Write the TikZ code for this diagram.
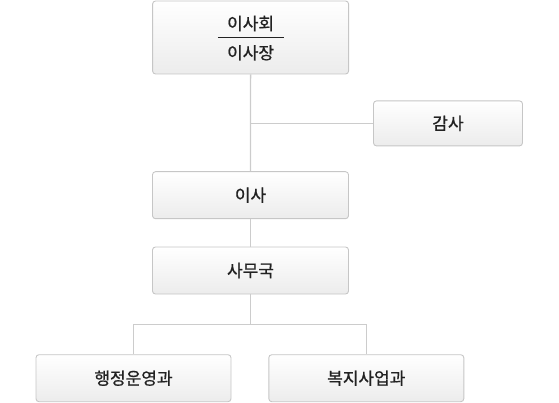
\documentclass[tikz,border=0pt]{standalone}
\usepackage{fontspec}
\setmainfont{Noto Sans CJK KR}
\newfontfamily\krfont{Noto Sans CJK KR}[FakeBold=0.8]
\definecolor{boxline}{HTML}{C6C6C6}
\definecolor{conline}{HTML}{CCCCCC}
\definecolor{txt}{HTML}{222222}
\definecolor{boxbot}{HTML}{ECECEC}
\tikzset{
  lbl/.style={text=txt, font=\krfont\fontsize{17}{19}\selectfont},
  orgbox/.style={draw=boxline, line width=0.9pt, rounded corners=3pt,
    top color=white, bottom color=boxbot, lbl,
    inner sep=0pt, align=center},
  conn/.style={draw=conline, line width=1.3pt}
}
\begin{document}
\begin{tikzpicture}[x=1pt,y=-1pt]
\useasboundingbox (0,0) rectangle (559,403);
\node[orgbox, minimum width=196pt, minimum height=73pt] (top) at (250.6,37.5) {};
\node[lbl, inner sep=0pt] (t1) at (250.6,23.5) {이사회};
\node[lbl, inner sep=0pt] (t2) at (250.6,52.8) {이사장};
\draw[txt, line width=1.1pt] (217.8,37.3) -- (284.3,37.3);
\node[orgbox, minimum width=149pt, minimum height=45pt] (gamsa) at (448,123.4) {감사};
\node[orgbox, minimum width=196pt, minimum height=47pt] (isa) at (250.5,195.2) {이사};
\node[orgbox, minimum width=196pt, minimum height=47pt] (samu) at (250.5,270.5) {사무국};
\node[orgbox, minimum width=195pt, minimum height=47pt] (left) at (133.5,378.2) {행정운영과};
\node[orgbox, minimum width=195pt, minimum height=47pt] (right) at (366.3,378.2) {복지사업과};
\coordinate (br) at (250.5,324.3);
\path[conn] (top.south) -- (isa.north);
\path[conn] (top.south |- gamsa.west) -- (gamsa.west);
\path[conn] (isa.south) -- (samu.north);
\path[conn] (samu.south) -- (br);
\path[conn] (br) -| (left.north);
\path[conn] (br) -| (right.north);
\end{tikzpicture}
\end{document}
